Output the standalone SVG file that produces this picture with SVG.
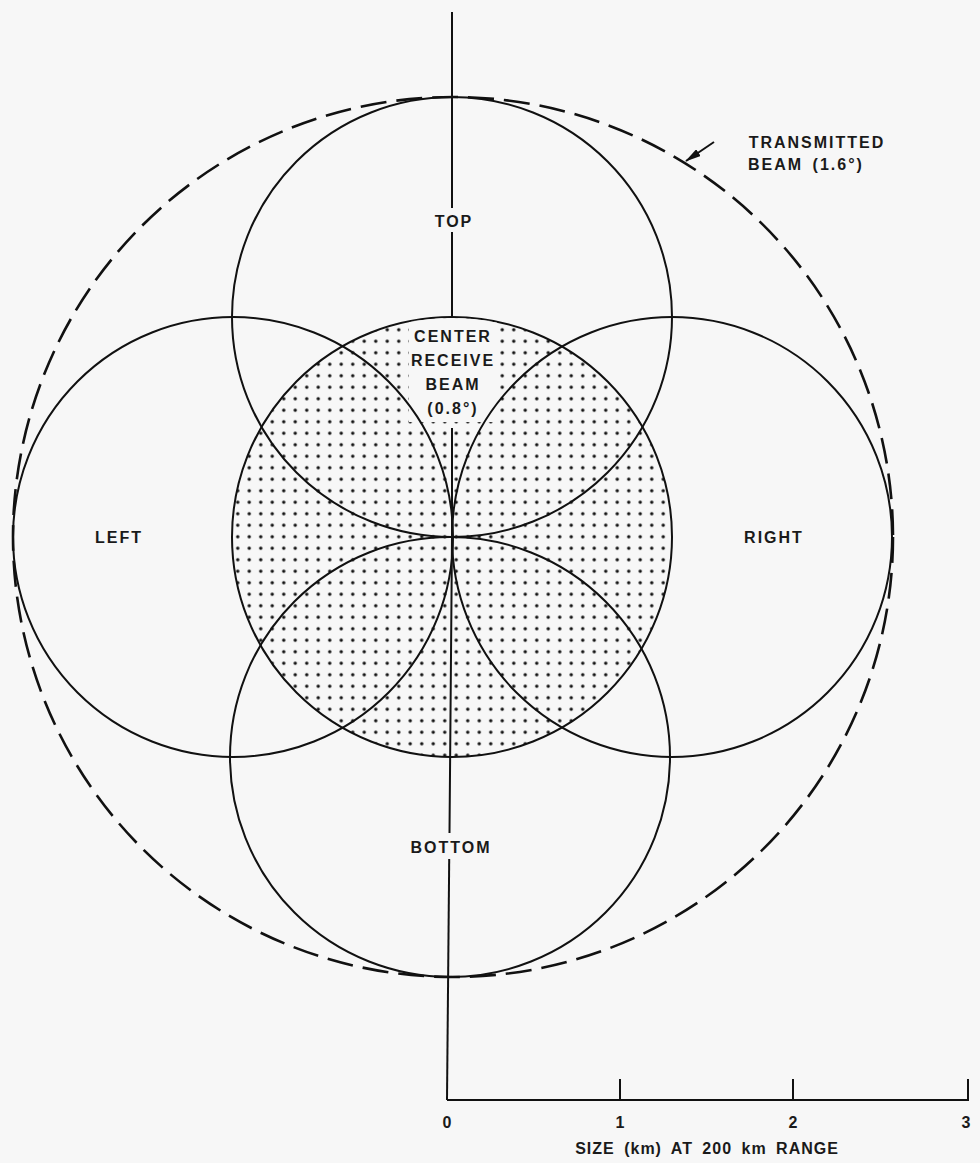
<svg xmlns="http://www.w3.org/2000/svg" width="980" height="1163" viewBox="0 0 980 1163">
<style>
.c{fill:none;stroke:#111;stroke-width:2}
.s{fill:url(#dots);stroke:#111;stroke-width:2}
.d{fill:none;stroke:#111;stroke-width:2.6;stroke-dasharray:26 10}
.t{font-family:"Liberation Sans",Arial,sans-serif;font-size:16px;font-weight:bold;letter-spacing:2px;fill:#1a1a1a;text-anchor:middle}
.ln{stroke:#111;stroke-width:2;fill:none}
</style>
<defs>
<pattern id="dots" x="2" y="2" width="11.5" height="11.5" patternUnits="userSpaceOnUse">
<circle cx="5.75" cy="5.75" r="1.7" fill="#111"/>
</pattern>
<clipPath id="cc"><circle cx="452" cy="537" r="219"/></clipPath>
<marker id="ah" markerWidth="16" markerHeight="8" refX="15" refY="4" orient="auto" markerUnits="userSpaceOnUse">
<path d="M0,0 L16,4 L0,8 Z" fill="#111"/>
</marker>
</defs>
<rect width="980" height="1163" fill="#f7f7f7"/>
<g id="center-beam">
<circle cx="452" cy="537" r="220" class="s"/>
<rect x="409" y="318" width="88" height="104" fill="#f7f7f7" clip-path="url(#cc)"/>
</g>
<g id="transmitted-beam">
<circle cx="453" cy="537" r="440" class="d"/>
</g>
<g id="top"><circle cx="452" cy="317" r="220" class="c"/></g>
<g id="bottom"><circle cx="450" cy="757" r="220" class="c"/></g>
<g id="left"><circle cx="233" cy="537" r="220" class="c"/></g>
<g id="right"><circle cx="672" cy="537" r="220" class="c"/></g>
<g id="connectors">
<line x1="452" y1="12" x2="452" y2="208" class="ln"/>
<line x1="452" y1="232" x2="452" y2="318" class="ln"/>
<polyline points="452,428 452,537 449.5,833" class="ln"/>
<line x1="449.2" y1="859" x2="447" y2="1100" class="ln"/>
<line x1="714" y1="142" x2="686" y2="161" class="ln" stroke-width="2.5" marker-end="url(#ah)"/>
<polyline points="447,1100 969,1100" class="ln"/>
<line x1="620" y1="1079" x2="620" y2="1100" class="ln"/>
<line x1="793" y1="1079" x2="793" y2="1100" class="ln"/>
<line x1="968" y1="1079" x2="968" y2="1100" class="ln"/>
</g>
<g id="labels">
<text class="t" x="454" y="227">TOP</text>
<text class="t" x="453" y="342">CENTER</text>
<text class="t" x="453" y="366">RECEIVE</text>
<text class="t" x="453" y="390">BEAM</text>
<text class="t" x="453" y="414">(0.8°)</text>
<text class="t" x="119" y="543">LEFT</text>
<text class="t" x="774" y="543">RIGHT</text>
<text class="t" x="451" y="853">BOTTOM</text>
<text class="t" x="817" y="148">TRANSMITTED</text>
<text class="t" x="806" y="170" style="word-spacing:3px">BEAM (1.6°)</text>
<text class="t" x="448" y="1128">0</text>
<text class="t" x="621" y="1128">1</text>
<text class="t" x="794" y="1128">2</text>
<text class="t" x="967" y="1128">3</text>
<text class="t" x="707" y="1154" style="letter-spacing:1px;word-spacing:4px">SIZE (km) AT 200 km RANGE</text>
</g>
</svg>
